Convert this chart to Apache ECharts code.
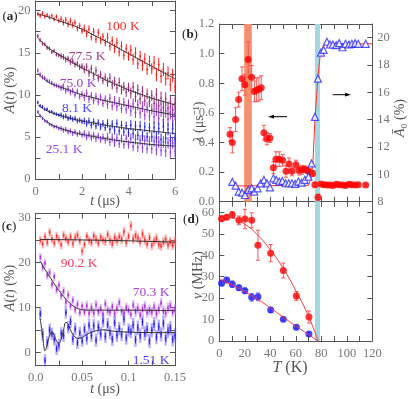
<!DOCTYPE html>
<html><head><meta charset="utf-8">
<script src="https://cdn.jsdelivr.net/npm/echarts@6/dist/echarts.min.js"></script>
<style>html,body{margin:0;padding:0;background:#fff}#c{width:409px;height:399px}</style>
</head><body><div id="c"></div><script>
// ---------- panel (a) ----------
const tA = [0.1,0.2,0.3,0.4,0.5,0.6,0.7,0.8,0.9,1.0,1.1,1.2,1.3,1.4,1.5,1.6,1.7,1.8,1.9,2.0,2.1,2.2,2.3,2.4,2.5,2.6,2.7,2.8,2.9,3.0,3.1,3.2,3.3,3.4,3.5,3.6,3.7,3.8,3.9,4.0,4.1,4.2,4.3,4.4,4.5,4.6,4.7,4.8,4.9,5.0,5.1,5.2,5.3,5.4,5.5,5.6,5.7,5.8,5.9,6.0];
const a100 = [19.6,19.4,19.7,19.3,19.5,19.2,19.4,19.0,19.3,18.8, 19.0,18.6,18.9,18.4,18.8,18.3,18.6,17.9,18.2,17.6, 17.9,17.3,17.8,16.9,17.5,16.6,17.4,16.5,16.9,16.2, 16.8,15.8,16.4,15.5,16.2,15.1,15.8,14.7,15.5,14.6, 15.3,14.2,15.0,13.7,14.6,13.5,14.3,13.0,14.0,13.1, 13.8,12.4,13.6,12.2,13.0,11.9,12.6,11.2,12.3,11.0];
const a775 = [17.0,16.5,16.1,16.0,15.6,15.5,15.1,15.2,14.8,14.7, 14.6,14.5,14.2,14.3,13.9,14.0,13.6,13.7,13.3,13.4, 13.0,13.3,12.6,13.1,12.3,12.9,12.0,12.4,11.7,12.1, 11.5,12.0,11.2,11.6,10.8,11.5,10.6,11.0,10.3,10.9, 10.2,10.9,9.8,10.6,9.5,10.4,9.3,10.1,9.2,9.9, 9.0,10.0,8.7,9.6,8.5,9.5,8.4,9.2,8.2,9.0];
const a750 = [12.9,12.4,12.1,12.0,11.7,11.6,11.4,11.2,11.1,11.0, 10.8,10.9,10.5,10.7,10.3,10.5,10.0,10.4,9.8,10.1, 9.7,10.2,9.5,9.9,9.3,9.8,9.2,9.7,9.0,9.5, 8.9,9.6,8.7,9.3,8.6,9.2,8.4,9.1,8.3,8.9, 8.1,8.9,7.9,8.8,7.8,8.6,7.6,8.5,7.5,8.3, 7.4,8.3,7.2,8.2,7.0,8.1,7.1,7.9,6.9,7.8];
const a81 = [9.1,8.7,8.6,8.3,8.3,8.0,8.0,7.8,7.7,7.6, 7.6,7.4,7.5,7.2,7.3,7.1,7.2,6.9,7.0,6.8, 6.9,6.6,6.9,6.4,6.8,6.3,6.7,6.2,6.6,6.1, 6.6,5.9,6.5,5.8,6.6,5.7,6.4,5.6,6.3,5.5, 6.4,5.4,6.3,5.2,6.3,5.1,6.2,5.0,6.1,5.0, 6.1,4.9,6.0,4.7,6.2,4.8,5.9,4.6,6.0,4.7];
const a251 = [8.0,7.5,7.2,6.9,6.8,6.5,6.4,6.2,6.2,6.0, 6.0,5.8,5.9,5.6,5.7,5.4,5.6,5.3,5.5,5.2, 5.4,5.0,5.3,4.9,5.2,4.8,5.1,4.7,5.0,4.6, 5.0,4.4,4.9,4.3,4.9,4.2,4.8,4.1,4.8,4.1, 4.8,3.9,4.7,3.8,4.6,3.7,4.6,3.6,4.5,3.6, 4.5,3.5,4.4,3.4,4.4,3.3,4.3,3.2,4.3,3.3];
const errA100 = [0.25,0.35,0.45,0.55,0.65,0.8];
const errA775 = [0.25,0.35,0.45,0.55,0.65,0.8];
const errA750 = [0.25,0.35,0.45,0.55,0.65,0.8];
const errA81  = [0.2,0.3,0.4,0.5,0.6,0.7];
const errA251 = [0.2,0.3,0.4,0.5,0.6,0.7];
const fitTA = [0.1,0.5,1,1.5,2,2.5,3,3.5,4,4.5,5,5.5,6];
const fitA100 = [19.6,19.3,18.8,18.35,17.8,17.1,16.4,15.65,14.9,14.15,13.4,12.65,11.9];
const fitA775 = [16.8,15.7,14.8,14.0,13.2,12.5,11.8,11.2,10.6,10.1,9.6,9.2,8.8];
const fitA750 = [12.6,11.6,11.0,10.5,10.0,9.65,9.3,9.0,8.7,8.4,8.1,7.85,7.6];
const fitA81  = [8.8,8.1,7.6,7.2,6.9,6.65,6.4,6.2,6.0,5.85,5.7,5.55,5.4];
const fitA251 = [7.9,6.8,6.1,5.65,5.3,5.05,4.8,4.6,4.4,4.25,4.1,4.0,3.9];
const ticksA_x = [0,2,4,6];
const ticksA_y = [0,5,10,15,20];

// ---------- panel (b) ----------
const lamT = [8.4,10.2,12.8,15.2,17.8,20.1,22.7,25.4,27.5,29.3,31.1,32.9,35.0,37.4,39.7,42.4,44.4,47.0,49.7,52.3,54.7,57.0,60.1,62.5,64.8,66.9,69.0,71.1,73.2,75.0,77.4,79.7,82.1,84.4,86.8,89.1,91.7,94.0,96.6,99.0,101.7,104.0,106.6,109.0,114.8];
const lam = [0.455,0.40,0.555,0.69,0.83,0.79,0.96,0.84,0.745,0.755,0.76,0.77,0.466,0.425,0.43,0.23,0.287,0.287,0.28,0.205,0.255,0.205,0.25,0.21,0.215,0.22,0.21,0.20,0.19,0.115,0.03,0.12,0.115,0.113,0.112,0.11,0.118,0.115,0.113,0.11,0.118,0.115,0.112,0.114,0.112];
const lamErr = [0.045,0.07,0.08,0.05,0.08,0.07,0.12,0.08,0.07,0.08,0.08,0.08,0.05,0.04,0.03,0.04,0.05,0.05,0.04,0.04,0.04,0.03,0.03,0.03,0.03,0.02,0.02,0.02,0.02,0.015,0.02,0.01,0.008,0.008,0.008,0.008,0.008,0.008,0.008,0.008,0.008,0.008,0.008,0.008,0.008];
const a0T = [10.2,12.8,15.2,17.8,20.1,22.7,25.4,27.5,30.0,32.4,35.0,37.4,39.7,42.4,44.7,47.0,49.5,52.0,54.5,57.0,59.5,62.0,64.5,67.0,69.9,72.4,75.0,77.4,79.7,81.8,84.4,86.8,89.1,91.7,94.0,96.6,99.0,101.7,104.0,106.6,109.0,114.8];
const a0 = [9.45,9.17,8.73,8.66,8.49,8.86,8.98,8.73,8.98,9.34,9.59,9.34,9.05,9.71,9.59,9.47,9.52,9.35,9.35,9.35,9.30,9.47,9.40,9.59,9.83,10.8,14.2,17.0,18.9,19.1,19.7,19.5,19.5,19.45,19.6,19.3,19.55,19.5,19.55,19.6,19.55,19.55];
const fitA0T = [11,70,72,73.5,75,77.4,79,80,82,84,120];
const fitA0 = [9.15,9.2,9.7,11,14,17.2,18.6,19.1,19.45,19.55,19.55];
const bandOrange = [19.5,25.5];
const bandCyan = [75,79];
const ticksB_x = [0,20,40,60,80,100,120];
const ticksB_yL = [0,0.2,0.4,0.6,0.8,1.0,1.2];
const ticksB_yR = [8,10,12,14,16,18,20];

// ---------- panel (c) ----------
const tC = [0.005,0.0075,0.01,0.0125,0.015,0.0175,0.02,0.0225,0.025,0.0275,0.03,0.0325,0.035,0.0375,0.04,0.0425,0.045,0.0475,0.05,0.0525,0.055,0.0575,0.06,0.0625,0.065,0.0675,0.07,0.0725,0.075,0.0775,0.08,0.0825,0.085,0.0875,0.09,0.0925,0.095,0.0975,0.1,0.1025,0.105,0.1075,0.11,0.1125,0.115,0.1175,0.12,0.1225,0.125,0.1275,0.13,0.1325,0.135,0.1375,0.14,0.1425,0.145,0.1475,0.15];
const c902 = [25.0,24.2,25.8,24.6,26.8,25.3,24.4,25.9,25.1,24.0,26.1,25.4,24.7,25.8,24.3,25.6,26.2,24.9,22.6,24.1,25.9,25.0,24.6,26.0,25.2,24.4,25.7,25.1,24.8,26.3,25.0,24.3,25.6,24.9,25.8,25.2,26.9,24.6,25.9,28.2,25.3,26.1,25.5,24.7,26.4,25.1,24.2,25.6,23.9,24.8,25.4,24.1,23.8,24.6,25.2,24.0,24.7,23.9,24.8];
const c703 = [21.2,19.0,19.9,17.2,17.8,15.2,16.9,14.0,15.0,12.7,13.6,11.2,12.8,10.4,11.6,9.6,10.7,8.9,10.3,9.0,10.4,8.7,9.9,8.8,10.6,9.1,9.7,8.5,10.8,9.3,9.0,10.2,8.6,9.8,11.1,9.2,8.7,10.0,9.4,8.5,10.5,9.1,9.8,8.4,9.6,10.3,8.9,9.5,9.0,10.1,8.6,9.7,11.0,9.2,8.8,9.9,10.4,9.0,9.6];
const c151 = [8.6,4.0,-1.8,2.2,5.0,4.1,2.9,0.8,1.6,4.2,3.7,8.9,5.6,6.8,3.0,5.2,2.1,4.3,2.6,5.1,3.2,6.0,3.8,5.9,2.7,5.6,4.1,7.0,3.6,6.2,4.4,2.9,6.6,3.8,5.3,4.0,7.4,3.2,5.0,4.6,6.1,2.8,5.5,3.7,6.8,4.2,5.1,2.5,4.9,6.3,3.4,5.7,4.0,6.5,3.1,4.8,5.4,2.9,3.8];
const errC902 = [1.0,1.0,1.0,1.1,1.1,1.1];
const errC703 = [1.0,1.0,1.1,1.1,1.2,1.2];
const errC151 = [1.4,1.4,1.5,1.5,1.6,1.6];
const fitTC902 = [0.005,0.05,0.1,0.15];
const fitC902 = [25.2,25.1,24.9,24.6];
const fitTC703 = [0.005,0.01,0.015,0.02,0.025,0.03,0.035,0.04,0.045,0.05,0.06,0.08,0.1,0.15];
const fitC703 = [20.3,18.5,16.9,15.3,13.8,12.5,11.3,10.4,9.8,9.5,9.4,9.4,9.4,9.3];
const fitTC151 = [0.005,0.0075,0.01,0.0125,0.015,0.0175,0.02,0.0225,0.025,0.0275,0.03,0.0325,0.035,0.0375,0.04,0.045,0.05,0.055,0.06,0.065,0.07,0.075,0.08,0.09,0.1,0.12,0.15];
const fitC151 = [7.5,3.5,0.3,1.8,3.8,4.6,3.8,2.4,2.0,3.0,5.0,6.7,6.3,5.0,4.0,3.1,3.3,4.0,4.5,4.8,5.0,5.0,4.8,4.6,4.5,4.4,4.4];
const ticksC_x = [0,0.05,0.1,0.15];
const ticksC_y = [0,10,20,30];

// ---------- panel (d) ----------
const nuT = [1.8,5.8,10.2,15.4,20.1,25.4,30.3,40.3,50.2,60.4,70.3];
const nu1 = [57.0,57.8,58.9,56.3,56.9,56.3,44.7,41.0,32.9,21.0,11.2];
const nu1Err = [1.0,1.0,1.5,2.0,4.5,3.5,7.0,4.0,3.5,2.0,2.8];
const nu2 = [27.0,28.5,26.5,24.9,23.4,20.4,20.6,14.5,10.1,6.4,3.3];
const nu2Err = [1.2,1.0,1.5,1.2,1.3,1.8,1.8,1.2,0.8,0.8,0.8];
const fitNuT = [0,10,20,30,40,50,60,70,77.5];
const fitNu1 = [58.5,57.5,54.5,49.5,42.5,34,23.5,11.5,0];
const fitNu2 = [29,26.2,23,19.5,15.5,11.2,7.0,3.0,0];
const ticksD_y = [0,10,20,30,40,50,60];

// ---------- build ----------
const FONT = 'Liberation Serif';
const zip = (xs, ys) => xs.map((x, i) => [x, ys[i]]);
const segErr = (ys, segs, n) => ys.map((_, i) => segs[Math.min(segs.length - 1, Math.floor(i / n))]);

function errBars(xi, yi, xs, ys, es, color, width, cap, z) {
  return {
    type: 'custom', xAxisIndex: xi, yAxisIndex: yi, silent: true, z: z || 2,
    data: xs.map((x, i) => [x, ys[i] - es[i], ys[i] + es[i]]),
    renderItem: function (params, api) {
      const p1 = api.coord([api.value(0), api.value(1)]);
      const p2 = api.coord([api.value(0), api.value(2)]);
      const st = { stroke: color, lineWidth: width };
      const ch = [{ type: 'line', shape: { x1: p1[0], y1: p1[1], x2: p2[0], y2: p2[1] }, style: st }];
      if (cap) {
        ch.push({ type: 'line', shape: { x1: p1[0] - cap, y1: p1[1], x2: p1[0] + cap, y2: p1[1] }, style: st });
        ch.push({ type: 'line', shape: { x1: p2[0] - cap, y1: p2[1], x2: p2[0] + cap, y2: p2[1] }, style: st });
      }
      return { type: 'group', children: ch };
    }
  };
}
function dots(xi, yi, xs, ys, color, size, symbol, extra) {
  return Object.assign({
    type: 'scatter', xAxisIndex: xi, yAxisIndex: yi, silent: true, z: 3,
    symbol: symbol || 'circle', symbolSize: size, data: zip(xs, ys),
    itemStyle: { color: color }
  }, extra || {});
}
function fit(xi, yi, xs, ys, color, smooth, w) {
  return {
    type: 'line', xAxisIndex: xi, yAxisIndex: yi, silent: true, z: 4, data: zip(xs, ys),
    showSymbol: false, smooth: smooth, lineStyle: { color: color, width: w || 1 }
  };
}

const AX = '#555', LBL = '#777';
function xAx(grid, min, max, labels, ticks, pos, fmt, showLabel) {
  return {
    type: 'value', gridIndex: grid, min: min, max: max, position: pos,
    axisLine: { show: true, onZero: false, lineStyle: { color: AX, width: 1 } },
    axisTick: { show: true, inside: true, length: 5, customValues: ticks, lineStyle: { color: AX } },
    axisLabel: { show: showLabel, customValues: labels, formatter: fmt, color: LBL, fontFamily: FONT, fontSize: 12.5, margin: 6 },
    splitLine: { show: false }
  };
}
function yAx(grid, min, max, labels, ticks, pos, fmt, showLabel) {
  return {
    type: 'value', gridIndex: grid, min: min, max: max, position: pos,
    axisLine: { show: true, onZero: false, lineStyle: { color: AX, width: 1 } },
    axisTick: { show: true, inside: true, length: 5, customValues: ticks, lineStyle: { color: AX } },
    axisLabel: { show: showLabel, customValues: labels, formatter: fmt, color: LBL, fontFamily: FONT, fontSize: 12.5, margin: 5 },
    splitLine: { show: false }
  };
}
const fInt = v => String(v);
const f1 = v => v.toFixed(1);
const fC = v => v === 0 ? '0.0' : String(+v.toFixed(2));

const chart = echarts.init(document.getElementById('c'), null, { renderer: 'canvas' });

const ticksAxMinor = [0,1,2,3,4,5,6];
const ticksAyMinor = [0,2.5,5,7.5,10,12.5,15,17.5,20];
const ticksCxMinor = [0,0.025,0.05,0.075,0.1,0.125,0.15];
const ticksCyMinor = [0,5,10,15,20,25,30];
const ticksBxMinor = [0,10,20,30,40,50,60,70,80,90,100,110,120];

const xAxes = [
  xAx(0, 0, 6, ticksA_x, ticksAxMinor, 'bottom', fInt, true),
  xAx(0, 0, 6, ticksA_x, ticksAxMinor, 'top', fInt, false),
  xAx(1, 0, 120, ticksB_x, ticksBxMinor, 'bottom', fInt, false),
  xAx(1, 0, 120, ticksB_x, ticksBxMinor, 'top', fInt, false),
  xAx(2, 0, 0.15, ticksC_x, ticksCxMinor, 'bottom', fC, true),
  xAx(2, 0, 0.15, ticksC_x, ticksCxMinor, 'top', fC, false),
  xAx(3, 0, 120, ticksB_x, ticksBxMinor, 'bottom', fInt, true),
  xAx(3, 0, 120, ticksB_x, ticksBxMinor, 'top', fInt, false)
];
const yAxes = [
  yAx(0, 0, 21.15, ticksA_y, ticksAyMinor, 'left', fInt, true),
  yAx(0, 0, 21.15, ticksA_y, ticksAyMinor, 'right', fInt, false),
  yAx(1, 0, 1.2, ticksB_yL, ticksB_yL, 'left', f1, true),
  yAx(1, 8, 21, ticksB_yR, ticksB_yR, 'right', fInt, true),
  yAx(2, -3, 31, ticksC_y, ticksCyMinor, 'left', fInt, true),
  yAx(2, -3, 31, ticksC_y, ticksCyMinor, 'right', fInt, false),
  yAx(3, 0, 65, ticksD_y, ticksD_y, 'left', fInt, true),
  yAx(3, 0, 65, ticksD_y, ticksD_y, 'right', fInt, false)
];

const colA = { c100: '#ff1a1a', c775: '#9a2a78', c750: '#9b35d8', c81: '#2424f0', c251: '#8a3cf0' };
const series = [];
// panel a
[[a100, errA100, colA.c100, fitA100], [a775, errA775, colA.c775, fitA775], [a750, errA750, colA.c750, fitA750],
 [a81, errA81, colA.c81, fitA81], [a251, errA251, colA.c251, fitA251]].forEach(s => {
  series.push(errBars(0, 0, tA, s[0], segErr(s[0], s[1], 10), s[2], 1, 0, 2));
  series.push(dots(0, 0, tA, s[0], s[2], 2));
  series.push(fit(0, 0, fitTA, s[3], '#333', true, 1));
});
// panel b bands
series.push({
  type: 'line', xAxisIndex: 2, yAxisIndex: 2, data: [], z: 1, silent: true,
  markArea: { silent: true, itemStyle: { opacity: 1 }, data: [
    [{ xAxis: bandOrange[0], itemStyle: { color: '#f4906b' } }, { xAxis: bandOrange[1] }],
    [{ xAxis: bandCyan[0], itemStyle: { color: '#a3d8e0' } }, { xAxis: bandCyan[1] }]
  ] }
});
series.push({
  type: 'line', xAxisIndex: 6, yAxisIndex: 6, data: [], z: 1, silent: true,
  markArea: { silent: true, itemStyle: { opacity: 1 }, data: [
    [{ xAxis: bandCyan[0], itemStyle: { color: '#a3d8e0' } }, { xAxis: bandCyan[1] }]
  ] }
});
series.push(fit(2, 3, fitA0T, fitA0, '#ff3030', false, 1));
series.push(errBars(2, 2, lamT, lam, lamErr, '#ff5555', 1, 2, 3));
series.push(dots(2, 2, lamT, lam, '#ff0000', 7));
series.push(dots(2, 3, a0T, a0, '#ffffff', 7, 'triangle', { itemStyle: { color: '#ffffff', borderColor: '#2a2aff', borderWidth: 1.2 }, z: 5 }));
// panel c
[[c902, errC902, '#ff3030', 'rgba(255,110,110,0.5)', fitTC902, fitC902, false],
 [c703, errC703, '#b02ee0', 'rgba(190,110,235,0.45)', fitTC703, fitC703, true],
 [c151, errC151, '#2a1ef0', 'rgba(95,80,255,0.45)', fitTC151, fitC151, 0.35]].forEach(s => {
  series.push(errBars(4, 4, tC, s[0], segErr(s[0], s[1], 10), s[3], 2.5, 0, 2));
  series.push(errBars(4, 4, tC, s[0], segErr(s[0], s[1].map(v => v * 0.5), 10), s[2], 1, 0, 2));
  series.push(dots(4, 4, tC, s[0], s[2], 2));
  series.push(fit(4, 4, s[4], s[5], '#333', s[6], 1));
});
// panel d
series.push(fit(6, 6, fitNuT, fitNu1, '#ff3030', true, 1));
series.push(fit(6, 6, fitNuT, fitNu2, '#ff3030', true, 1));
series.push(errBars(6, 6, nuT, nu1, nu1Err, '#ff5555', 1, 2, 3));
series.push(errBars(6, 6, nuT, nu2, nu2Err, '#7070ff', 1, 2, 3));
series.push(dots(6, 6, nuT, nu1, '#ff0000', 7));
series.push(dots(6, 6, nuT, nu2, '#1a1aff', 7));

const txt = (x, y, text, color, size, opts) => Object.assign({
  type: 'text', x: x, y: y, silent: true, z: 10,
  style: Object.assign({ text: text, fill: color, font: (size || 13) + 'px "' + FONT + '"', textAlign: 'center', textVerticalAlign: 'middle' }, (opts && opts.style) || {})
}, (opts && opts.el) || {});
const rich = { i: { fontStyle: 'italic', fontFamily: FONT, fontSize: 14, fill: '#555' }, n: { fontFamily: FONT, fontSize: 14, fill: '#555' }, b: { fontWeight: 'bold', fontFamily: FONT, fontSize: 13, fill: '#222' }, p: { fontFamily: FONT, fontSize: 13, fill: '#222' } };
const rtxt = (x, y, text, rot) => ({
  type: 'text', x: x, y: y, rotation: rot || 0, silent: true, z: 10,
  style: { text: text, rich: rich, textAlign: 'center', textVerticalAlign: 'middle' }
});
const graphic = [
  txt(123, 26, '100 K', '#ff2a2a', 13.5),
  txt(87, 56, '77.5 K', '#a03a88', 13.5),
  txt(78, 83, '75.0 K', '#a040d8', 13.5),
  txt(77, 108, '8.1 K', '#4646ff', 13.5),
  txt(64, 149, '25.1 K', '#9646f0', 13.5),
  txt(79, 263, '90.2 K', '#ff3a5a', 13.5),
  txt(151, 292, '70.3 K', '#b040e0', 13.5),
  txt(151, 360, '1.51 K', '#4a3cff', 13.5),
  rtxt(10, 17, '{p|(}{b|a}{p|)}'),
  rtxt(190, 35, '{p|(}{b|b}{p|)}'),
  rtxt(9, 227, '{p|(}{b|c}{p|)}'),
  rtxt(191, 220, '{p|(}{b|d}{p|)}'),
  rtxt(10, 90, '{i|A}{n|(}{i|t}{n|) (%)}', Math.PI / 2),
  rtxt(105, 201, '{i|t}{n| (μs)}'),
  rtxt(10, 288, '{i|A}{n|(}{i|t}{n|) (%)}', Math.PI / 2),
  rtxt(105, 389, '{i|t}{n| (μs)}'),
  rtxt(199, 122, '{i|λ}{n| (μs⁻¹)}', Math.PI / 2),
  rtxt(400, 118, '{i|Ā}{n|₀ (%)}', Math.PI / 2),
  rtxt(198, 275, '{i|ν}{n| (MHz)}', Math.PI / 2),
  { type: 'text', x: 290, y: 368, silent: true, z: 10, style: { text: '{i|T}{n| (K)}', rich: { i: { fontStyle: 'italic', fontFamily: FONT, fontSize: 16, fill: '#555' }, n: { fontFamily: FONT, fontSize: 16, fill: '#555' } }, textAlign: 'center', textVerticalAlign: 'middle' } },
  // arrows
  { type: 'line', silent: true, z: 10, shape: { x1: 287, y1: 116.7, x2: 272, y2: 116.7 }, style: { stroke: '#000', lineWidth: 1 } },
  { type: 'polygon', silent: true, z: 10, shape: { points: [[268, 116.7], [274, 114.8], [274, 118.6]] }, style: { fill: '#000' } },
  { type: 'line', silent: true, z: 10, shape: { x1: 332.7, y1: 94.7, x2: 347, y2: 94.7 }, style: { stroke: '#000', lineWidth: 1 } },
  { type: 'polygon', silent: true, z: 10, shape: { points: [[351, 94.7], [345, 92.8], [345, 96.6]] }, style: { fill: '#000' } }
];

chart.setOption({
  animation: false,
  backgroundColor: '#fff',
  grid: [
    { left: 35.5, top: 1, width: 139.5, height: 178, outerBoundsMode: 'none' },
    { left: 219.3, top: 24, width: 153, height: 177.7, outerBoundsMode: 'none' },
    { left: 35.7, top: 213.5, width: 139.3, height: 152.2, outerBoundsMode: 'none' },
    { left: 219.3, top: 201.7, width: 153, height: 139.3, outerBoundsMode: 'none' }
  ],
  xAxis: xAxes,
  yAxis: yAxes,
  series: series,
  graphic: graphic
});
</script></body></html>
